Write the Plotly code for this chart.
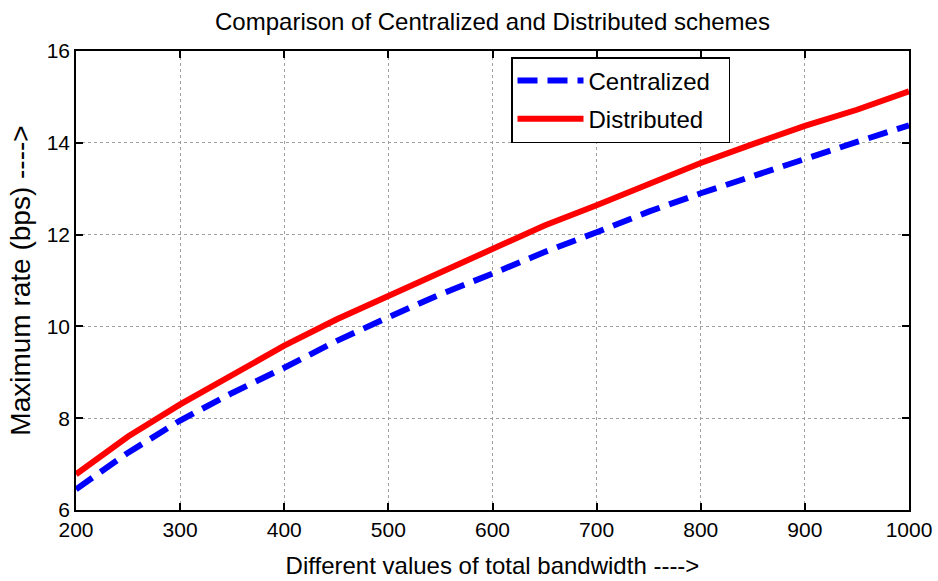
import plotly.graph_objects as go

# Total bandwidth values
bandwidth = [200, 250, 300, 350, 400, 450, 500, 550, 600, 650, 700, 750, 800, 850, 900, 950, 1000]

# Maximum rate (bps)
centralized = [6.45, 7.25, 7.95, 8.55, 9.10, 9.68, 10.20, 10.70, 11.15, 11.62, 12.05, 12.50, 12.90, 13.28, 13.65, 14.02, 14.38]
distributed = [6.78, 7.60, 8.30, 8.95, 9.58, 10.15, 10.66, 11.20, 11.68, 12.20, 12.64, 13.10, 13.56, 13.97, 14.37, 14.72, 15.12]

font_family = "Liberation Sans, Arial, sans-serif"

fig = go.Figure()

# trailing nbsp widens the legend box a little, like the original
fig.add_trace(go.Scatter(
    x=bandwidth, y=centralized, mode='lines', name='Centralized\u00a0\u00a0',
    legendgroup='c',
    line=dict(color='#0000ff', width=6, dash='20px,10px')
))
fig.add_trace(go.Scatter(
    x=bandwidth, y=distributed, mode='lines', name='Distributed',
    legendgroup='d',
    line=dict(color='#ff0000', width=6)
))

axis_common = dict(
    showline=True, linecolor='black', linewidth=1.5, mirror='ticks',
    ticks='inside', ticklen=7, tickcolor='black', tickwidth=1.5,
    showgrid=True, gridcolor='#a0a0a0', griddash='dot', gridwidth=1,
    zeroline=False, automargin=False, ticklabeloverflow='allow',
    tickfont=dict(size=21, color='black', family=font_family),
)

fig.update_xaxes(
    range=[200, 1000], dtick=100, tick0=200,
    title=dict(text='Different values of total bandwidth ---->',
               font=dict(size=24, color='black', family=font_family), standoff=17),
    **axis_common
)
fig.update_yaxes(
    range=[6, 16], dtick=2, tick0=6,
    title=dict(text='Maximum rate (bps) ---->',
               font=dict(size=28, color='black', family=font_family), standoff=8),
    **axis_common
)

fig.update_layout(
    width=938, height=581,
    margin=dict(l=76, r=29, t=51, b=71),
    paper_bgcolor='white', plot_bgcolor='white',
    title=dict(text='Comparison of Centralized and Distributed schemes',
               x=0.5, xanchor='center', xref='paper',
               y=1 - 22 / 581, yanchor='middle',
               font=dict(size=24, color='black', family=font_family)),
    legend=dict(
        x=(511 - 76) / 833, y=(510 - 57) / 459, xanchor='left', yanchor='top',
        bordercolor='black', borderwidth=1.5, bgcolor='white',
        font=dict(size=24, color='black', family=font_family),
        itemwidth=66, tracegroupgap=4,
    ),
    showlegend=True,
)

# drop the page's default body margin so the figure sits at the top-left corner
fig.write_html("out.html", config={'displayModeBar': False},
               post_script="document.body.style.margin='0';document.body.style.overflow='hidden';")
